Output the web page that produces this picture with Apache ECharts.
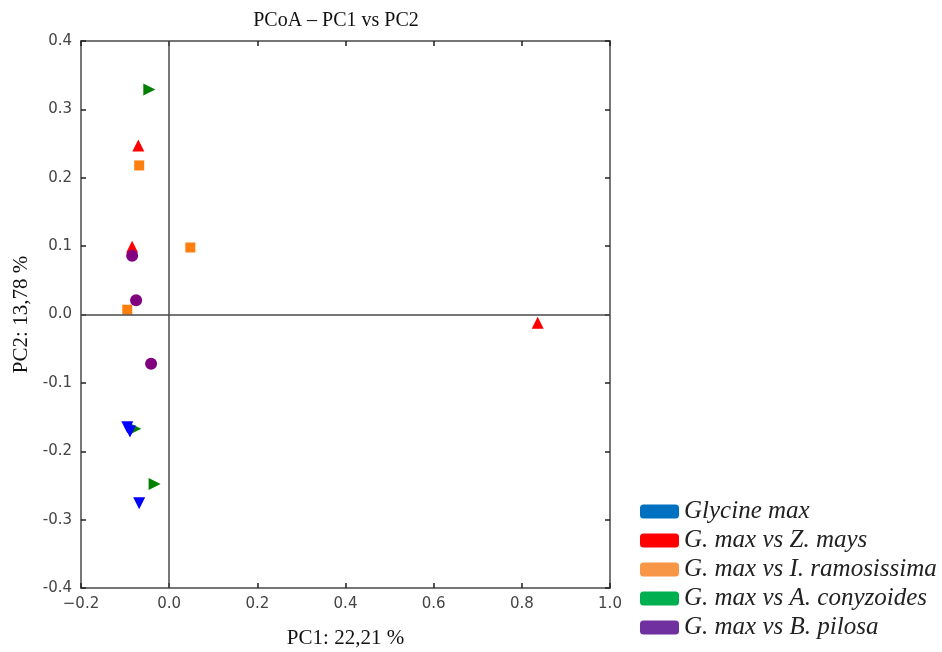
<!DOCTYPE html>
<html>
<head>
<meta charset="utf-8">
<script src="https://cdn.jsdelivr.net/npm/echarts@6/dist/echarts.min.js"></script>
<style>
html,body{margin:0;padding:0;background:#fff;}
#chart{width:942px;height:652px;}
</style>
</head>
<body>
<div id="chart"></div>
<script>
// PCoA coordinates per group: [PC1, PC2]
const glycineMax = [[-0.095, -0.165], [-0.089, -0.171], [-0.068, -0.276]];
const zMays = [[-0.070, 0.247], [-0.084, 0.099], [0.836, -0.012]];
const iRamosissima = [[-0.068, 0.218], [0.048, 0.098], [-0.095, 0.007]];
const aConyzoides = [[-0.045, 0.329], [-0.077, -0.167], [-0.033, -0.248]];
const bPilosa = [[-0.084, 0.086], [-0.075, 0.021], [-0.041, -0.072]];

const groupNames = ['Glycine max', 'G. max vs Z. mays', 'G. max vs I. ramosissima', 'G. max vs A. conyzoides', 'G. max vs B. pilosa'];
const xTicks = [-0.2, 0.0, 0.2, 0.4, 0.6, 0.8, 1.0];
const yTicks = [-0.4, -0.3, -0.2, -0.1, 0.0, 0.1, 0.2, 0.3, 0.4];

const markerColors = ['#0000ff', '#ff0000', '#ff7f0e', '#008000', '#800080'];
const legendColors = ['#0070c0', '#ff0000', '#f79646', '#00b050', '#7030a0'];

const fmtX = v => v.toFixed(1).replace('-', '\u2212');
const fmtY = v => v.toFixed(1);
const axisLineStyle = { color: '#4a4a4a', width: 1.5 };
const labelStyle = { fontFamily: 'DejaVu Sans', fontSize: 15, color: '#444' };
const nameStyle = { fontFamily: 'Liberation Serif', fontSize: 21, color: '#111' };

function xAx(pos, showLabel) {
  return {
    type: 'value', position: pos, min: xTicks[0], max: xTicks[xTicks.length - 1], interval: 0.2,
    axisLine: { show: true, onZero: false, lineStyle: axisLineStyle },
    axisTick: { show: true, inside: true, length: 5, lineStyle: { color: '#222', width: 1.5 } },
    axisLabel: Object.assign({ show: showLabel, formatter: fmtX, margin: 9 }, labelStyle),
    splitLine: { show: false }
  };
}
function yAx(pos, showLabel) {
  return {
    type: 'value', position: pos, min: yTicks[0], max: yTicks[yTicks.length - 1], interval: 0.1,
    axisLine: { show: true, onZero: false, lineStyle: axisLineStyle },
    axisTick: { show: true, inside: true, length: 5, lineStyle: { color: '#222', width: 1.5 } },
    axisLabel: Object.assign({ show: showLabel, formatter: fmtY, margin: 9 }, labelStyle),
    splitLine: { show: false }
  };
}

const xAxes = [xAx('bottom', true), xAx('top', false)];
xAxes[0].name = 'PC1: 22,21 %';
xAxes[0].nameLocation = 'middle';
xAxes[0].nameGap = 40;
xAxes[0].nameTextStyle = nameStyle;

const yAxes = [yAx('left', true), yAx('right', false)];
yAxes[0].name = 'PC2: 13,78 %';
yAxes[0].nameLocation = 'middle';
yAxes[0].nameGap = 48;
yAxes[0].nameTextStyle = nameStyle;

const groups = [
  { data: glycineMax, symbol: 'triangle', rotate: 180, size: 12, z: 6 },
  { data: zMays, symbol: 'triangle', rotate: 0, size: 12, z: 3 },
  { data: iRamosissima, symbol: 'rect', rotate: 0, size: 10, z: 3 },
  { data: aConyzoides, symbol: 'triangle', rotate: -90, size: 12, z: 3 },
  { data: bPilosa, symbol: 'circle', rotate: 0, size: 12, z: 4 }
];

const series = groups.map((g, i) => ({
  name: groupNames[i],
  type: 'scatter',
  data: g.data,
  symbol: g.symbol,
  symbolRotate: g.rotate,
  symbolSize: g.size,
  z: g.z,
  itemStyle: { color: markerColors[i], opacity: 1 }
}));

// zero reference lines
series.push({
  type: 'scatter', data: [], silent: true, z: 1,
  markLine: {
    silent: true, symbol: 'none', label: { show: false },
    lineStyle: { color: '#4a4a4a', width: 1.5, type: 'solid' },
    data: [{ xAxis: 0 }, { yAxis: 0 }]
  }
});

const chart = echarts.init(document.getElementById('chart'));
chart.setOption({
  animation: false,
  backgroundColor: '#fff',
  title: {
    text: 'PCoA \u2013 PC1 vs PC2', left: 331, top: 6, textAlign: 'center',
    textStyle: { fontFamily: 'Liberation Serif', fontSize: 20, fontWeight: 'normal', color: '#111' }
  },
  grid: { left: 81, right: 332, top: 41, bottom: 64, containLabel: false, outerBoundsMode: 'none' },
  xAxis: xAxes,
  yAxis: yAxes,
  legend: {
    orient: 'vertical', left: 635, top: 494,
    icon: 'roundRect', itemWidth: 39, itemHeight: 14, itemGap: 4,
    textStyle: { fontFamily: 'Liberation Serif', fontStyle: 'italic', fontSize: 25, color: '#222' },
    data: groupNames.map((n, i) => ({ name: n, itemStyle: { color: legendColors[i] } }))
  },
  series: series
});
</script>
</body>
</html>
